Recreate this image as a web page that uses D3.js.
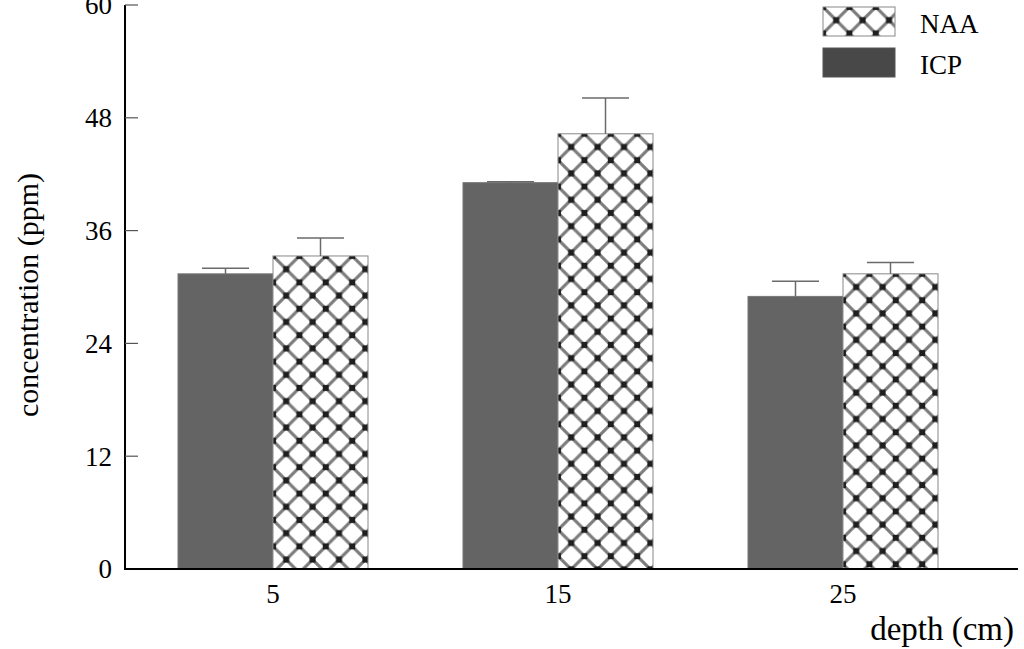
<!DOCTYPE html>
<html><head><meta charset="utf-8">
<script src="https://cdn.jsdelivr.net/npm/d3@7"></script>
<style>body{margin:0;background:#fff}svg{display:block}text{font-family:"Liberation Serif","Times New Roman",serif;fill:#000}</style>
</head><body><svg id="c" width="1024" height="649"></svg>
<script>
const categories = ["5", "15", "25"];
const series = ["ICP", "NAA"];
const icpValues = [31.4, 41.1, 29.0];
const icpErrors = [0.6, 0.1, 1.6];
const naaValues = [33.3, 46.3, 31.4];
const naaErrors = [1.9, 3.8, 1.2];
const yTicks = [0, 12, 24, 36, 48, 60];

const svg = d3.select("#c");
const x0 = 125, x1 = 1018, yTop = 5, yBot = 569;
const xc = d3.scalePoint().domain(categories).range([273, 843]);
const bw = 95;
const y = d3.scaleLinear().domain([0, 60]).range([yBot, yTop]);

const data = [];
categories.forEach((c, i) => {
  data.push({cat: c, s: "ICP", v: icpValues[i], e: icpErrors[i], i});
  data.push({cat: c, s: "NAA", v: naaValues[i], e: naaErrors[i], i});
});
const bx = d => xc(d.cat) + (d.s === "ICP" ? -bw : 0);

const defs = svg.append("defs");
const S = 26.4;
function makePattern(id, px, py) {
  const p = defs.append("pattern").attr("id", id).attr("patternUnits", "userSpaceOnUse")
    .attr("x", px).attr("y", py).attr("width", S).attr("height", S);
  p.append("rect").attr("width", S).attr("height", S).attr("fill", "#fff");
  const g = p.append("g").attr("stroke", "#7c7c7c").attr("stroke-width", 3.2);
  g.append("line").attr("x1", 0).attr("y1", 0).attr("x2", S).attr("y2", S);
  g.append("line").attr("x1", S).attr("y1", 0).attr("x2", 0).attr("y2", S);
  g.append("line").attr("x1", -S/2).attr("y1", S/2).attr("x2", S/2).attr("y2", 3*S/2);
  g.append("line").attr("x1", S/2).attr("y1", -S/2).attr("x2", 3*S/2).attr("y2", S/2);
  g.append("line").attr("x1", S/2).attr("y1", -S/2).attr("x2", -S/2).attr("y2", S/2);
  g.append("line").attr("x1", 3*S/2).attr("y1", S/2).attr("x2", S/2).attr("y2", 3*S/2);
  const pts = [[0,0],[S,0],[0,S],[S,S],[S/2,S/2]];
  pts.forEach(([a,b]) => p.append("rect").attr("x", a-3).attr("y", b-3).attr("width", 6).attr("height", 6).attr("fill", "#1e1e1e"));
}

data.forEach((d, k) => {
  const left = bx(d), top = y(d.v);
  let fill = "#646464";
  if (d.s === "NAA") { const id = "pat" + k; makePattern(id, left, top); fill = `url(#${id})`; }
  svg.append("rect").attr("x", left).attr("y", top).attr("width", bw).attr("height", yBot - top)
    .attr("fill", fill).attr("stroke", d.s === "NAA" ? "#888" : "#777").attr("stroke-width", 1);
  const cx = left + bw/2, et = y(d.v + d.e);
  svg.append("line").attr("x1", cx).attr("x2", cx).attr("y1", top).attr("y2", et).attr("stroke", "#6a6a6a").attr("stroke-width", 1.5);
  svg.append("line").attr("x1", cx - 23.5).attr("x2", cx + 23.5).attr("y1", et).attr("y2", et).attr("stroke", "#6a6a6a").attr("stroke-width", 1.5);
});

const ya = svg.append("g");
ya.append("line").attr("x1", x0).attr("x2", x0).attr("y1", yTop).attr("y2", yBot+1).attr("stroke", "#000").attr("stroke-width", 2);
yTicks.forEach(t => {
  if (t > 0) ya.append("line").attr("x1", x0).attr("x2", x0 + 13).attr("y1", y(t)).attr("y2", y(t)).attr("stroke", "#555").attr("stroke-width", 1.2);
  ya.append("text").attr("x", 112).attr("y", y(t)).attr("dy", "0.35em").attr("text-anchor", "end")
    .attr("font-size", 27).text(t);
});
svg.append("line").attr("x1", x0 - 1).attr("x2", x1).attr("y1", yBot).attr("y2", yBot).attr("stroke", "#000").attr("stroke-width", 2);
categories.forEach(c => {
  svg.append("text").attr("x", xc(c)).attr("y", 603).attr("text-anchor", "middle").attr("font-size", 27).text(c);
});

svg.append("text").attr("x", 1014).attr("y", 640).attr("text-anchor", "end").attr("font-size", 33).text("depth (cm)");
svg.append("text").attr("transform", "translate(38,295) rotate(-90)").attr("text-anchor", "middle").attr("font-size", 30).text("concentration (ppm)");

makePattern("legpat", 823, 7);
const legend = [{s: "NAA", fill: "url(#legpat)", y: 7}, {s: "ICP", fill: "#484848", y: 48}];
legend.forEach(l => {
  svg.append("rect").attr("x", 823).attr("y", l.y).attr("width", 72).attr("height", 29).attr("fill", l.fill)
    .attr("stroke", l.s === "NAA" ? "#888" : "#555").attr("stroke-width", 1);
  svg.append("text").attr("x", 920).attr("y", l.y + 26).attr("font-size", 27).text(l.s);
});
</script></body></html>
